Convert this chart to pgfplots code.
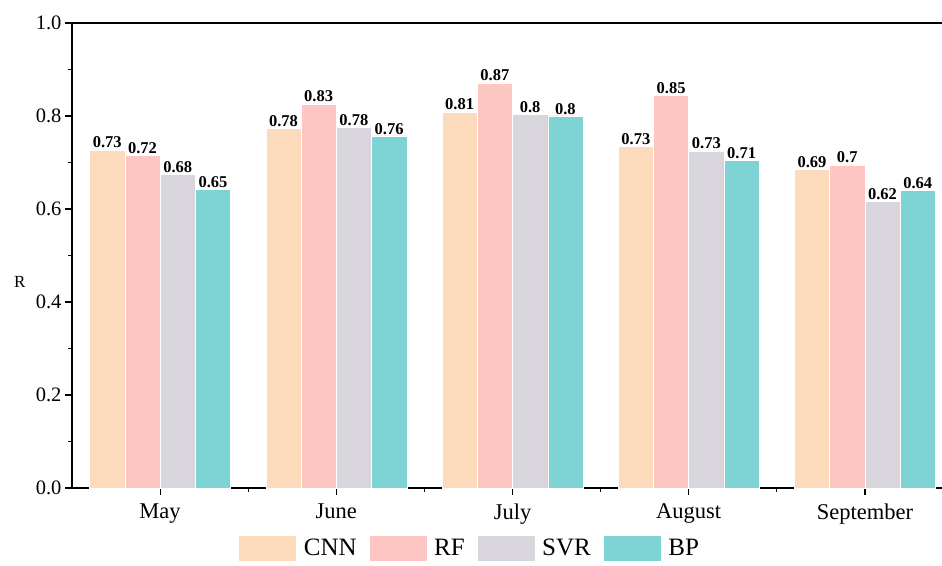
\documentclass[border=0pt]{standalone}
\usepackage{pgfplots}
\pgfplotsset{compat=1.18}
\usepackage{fontspec}
\setmainfont{Liberation Serif}
\definecolor{cnn}{RGB}{252,218,188}
\definecolor{rf}{RGB}{253,198,194}
\definecolor{svr}{RGB}{216,214,220}
\definecolor{bp}{RGB}{126,211,213}
\begin{document}
\begin{tikzpicture}
\begin{axis}[
  scale only axis, width=870pt, height=465pt,
  xmin=-0.5, xmax=4.4375, ymin=0, ymax=1,
  axis x line*=bottom, axis y line*=left,
  axis line style={line width=1.2pt},
  tick align=outside,
  major tick length=7pt, minor tick length=4pt,
  every tick/.style={black, line width=1.2pt},
  xtick={0,1,2,3,4},
  xticklabels={May,June,July,August,September},
  minor xtick={0.5,1.5,2.5,3.5},
  ytick={0,0.2,0.4,0.6,0.8,1.0},
  minor ytick={0.1,0.3,0.5,0.7,0.9},
  yticklabel style={/pgf/number format/fixed, /pgf/number format/precision=1, /pgf/number format/fixed zerofill, font=\fontsize{20.5}{20.5}\selectfont},
  /pgf/number format/assume math mode=true,
  xticklabel style={font=\fontsize{22.5}{22.5}\selectfont, yshift=-5pt},
  ylabel={R},
  ylabel style={at={(axis description cs:-0.06,0.443)}, rotate=-90, anchor=center, font=\fontsize{17}{17}\selectfont},
  ybar=0pt, bar width=0.2,
  point meta=explicit symbolic,
  nodes near coords,
  nodes near coords style={font=\bfseries\fontsize{16.5}{16.5}\selectfont, inner sep=1.5pt, anchor=south},
  legend style={at={(axis description cs:0.191,-0.13)}, anchor=west, legend columns=4, draw=none, fill=none,
    font=\fontsize{25}{25}\selectfont, inner sep=0pt,
    /tikz/every odd column/.append style={column sep=5pt},
    /tikz/every even column/.append style={column sep=10pt}},
  legend image code/.code={\fill[#1] (0pt,-13pt) rectangle (58pt,13pt);},
]
\addplot[fill=cnn, draw=white, line width=0.5pt] coordinates {
 (0,0.727) [0.73] (1,0.774) [0.78] (2,0.809) [0.81] (3,0.734) [0.73] (4,0.685) [0.69]};
\addlegendentry{CNN}
\addplot[fill=rf, draw=white, line width=0.5pt] coordinates {
 (0,0.716) [0.72] (1,0.826) [0.83] (2,0.871) [0.87] (3,0.845) [0.85] (4,0.695) [0.7]};
\addlegendentry{RF}
\addplot[fill=svr, draw=white, line width=0.5pt] coordinates {
 (0,0.675) [0.68] (1,0.776) [0.78] (2,0.803) [0.8] (3,0.725) [0.73] (4,0.617) [0.62]};
\addlegendentry{SVR}
\addplot[fill=bp, draw=white, line width=0.5pt] coordinates {
 (0,0.643) [0.65] (1,0.757) [0.76] (2,0.800) [0.8] (3,0.705) [0.71] (4,0.640) [0.64]};
\addlegendentry{BP}
\draw[line width=1.2pt] (rel axis cs:0,1) -- (rel axis cs:1,1);
\end{axis}
\pgfresetboundingbox
\useasboundingbox (-72pt,-77pt) rectangle (870pt,488pt);
\end{tikzpicture}
\end{document}
